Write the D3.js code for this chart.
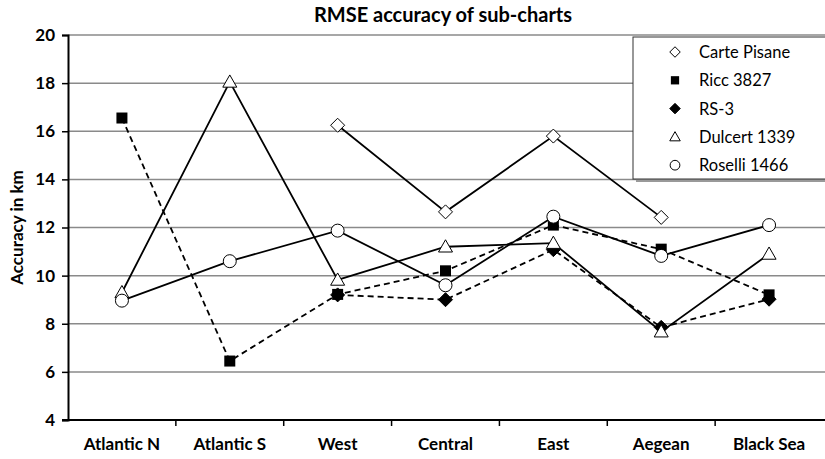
<!DOCTYPE html>
<html>
<head>
<meta charset="utf-8">
<script src="https://cdn.jsdelivr.net/npm/d3@7"></script>
<style>
  body { margin: 0; background: #fff; }
  svg { font-family: Lato, "Open Sans", sans-serif; }
</style>
</head>
<body>
<div id="chart"></div>
<script>
var regions = ["Atlantic N", "Atlantic S", "West", "Central", "East", "Aegean", "Black Sea"];
var yTicks = [4, 6, 8, 10, 12, 14, 16, 18, 20];

// null = no value for that region
var cartePisane = [null, null, 16.25, 12.65, 15.8, 12.42, null];
var ricc3827    = [16.55, 6.45, 9.22, 10.2, 12.1, 11.1, 9.2];
var rs3         = [null, null, 9.2, 9.0, 11.08, 7.85, 9.02];
var dulcert1339 = [9.3, 18.05, 9.82, 11.2, 11.35, 7.67, 10.9];
var roselli1466 = [8.96, 10.6, 11.87, 9.6, 12.45, 10.82, 12.1];

var series = [
  { name: "Carte Pisane", values: cartePisane, marker: "diamondOpen", dash: null },
  { name: "Ricc 3827", values: ricc3827, marker: "square", dash: "6,4" },
  { name: "RS-3", values: rs3, marker: "diamond", dash: "6,4" },
  { name: "Dulcert 1339", values: dulcert1339, marker: "triangle", dash: null },
  { name: "Roselli 1466", values: roselli1466, marker: "circle", dash: null }
];

var width = 825, height = 459;
var margin = { top: 35, right: 2, bottom: 39, left: 68 };
var fs = "17px";

var svg = d3.select("#chart").append("svg")
  .attr("width", width)
  .attr("height", height);

var x = d3.scaleBand()
  .domain(regions)
  .range([margin.left, width - margin.right]);

var y = d3.scaleLinear()
  .domain([4, 20])
  .range([height - margin.bottom, margin.top]);

function cx(i) { return x(regions[i]) + x.bandwidth() / 2; }

// title
svg.append("text")
  .attr("x", 443).attr("y", 22)
  .attr("text-anchor", "middle")
  .style("font-weight", "bold").style("font-size", "20px")
  .text("RMSE accuracy of sub-charts");

// gridlines
svg.append("g").selectAll("line")
  .data(yTicks.filter(function(d) { return d > 4; }))
  .enter().append("line")
  .attr("x1", margin.left).attr("x2", width)
  .attr("y1", function(d) { return y(d); })
  .attr("y2", function(d) { return y(d); })
  .attr("stroke", "#8a8a8a").attr("stroke-width", 1.5);

// y axis
var yAxis = svg.append("g")
  .attr("transform", "translate(" + margin.left + ",0)")
  .call(d3.axisLeft(y).tickValues(yTicks).tickSize(6).tickPadding(7).tickFormat(d3.format("d")));
yAxis.select(".domain").attr("stroke", "#000").attr("stroke-width", 2);
yAxis.selectAll(".tick line").attr("stroke", "#000").attr("stroke-width", 1.5);
yAxis.selectAll(".tick text")
  .style("font-size", fs).style("font-weight", "bold")
  .style("font-family", "Lato, 'Open Sans', sans-serif").attr("fill", "#000");

// x axis
var xAxisG = svg.append("g")
  .attr("transform", "translate(0," + y(4) + ")");
xAxisG.append("line")
  .attr("x1", margin.left - 6).attr("x2", width)
  .attr("stroke", "#000").attr("stroke-width", 2);
xAxisG.selectAll(".xt")
  .data(regions.slice(1))
  .enter().append("line")
  .attr("x1", function(d) { return x(d); })
  .attr("x2", function(d) { return x(d); })
  .attr("y1", 0).attr("y2", 6)
  .attr("stroke", "#000").attr("stroke-width", 1.5);
xAxisG.selectAll(".xl")
  .data(regions)
  .enter().append("text")
  .attr("x", function(d) { return x(d) + x.bandwidth() / 2; })
  .attr("y", 30)
  .attr("text-anchor", "middle")
  .style("font-size", fs).style("font-weight", "bold")
  .text(function(d) { return d; });

// y title
svg.append("text")
  .attr("transform", "translate(23," + ((y(4) + y(20)) / 2) + ") rotate(-90)")
  .attr("text-anchor", "middle")
  .style("font-size", fs).style("font-weight", "bold")
  .text("Accuracy in km");

function drawMarker(g, type, px, py, scale) {
  var s = scale || 1;
  if (type === "square") {
    g.append("rect").attr("x", px - 5.5 * s).attr("y", py - 5.5 * s)
      .attr("width", 11 * s).attr("height", 11 * s).attr("fill", "#000");
  } else if (type === "diamond" || type === "diamondOpen") {
    var r = 7 * s;
    g.append("path")
      .attr("d", "M" + px + "," + (py - r) + "L" + (px + r) + "," + py + "L" + px + "," + (py + r) + "L" + (px - r) + "," + py + "Z")
      .attr("fill", type === "diamond" ? "#000" : "#fff")
      .attr("stroke", "#000").attr("stroke-width", 1);
  } else if (type === "triangle") {
    var t = 7 * s;
    g.append("path")
      .attr("d", "M" + px + "," + (py - t) + "L" + (px + t) + "," + (py + t * 0.75) + "L" + (px - t) + "," + (py + t * 0.75) + "Z")
      .attr("fill", "#fff").attr("stroke", "#000").attr("stroke-width", 1);
  } else if (type === "circle") {
    g.append("circle").attr("cx", px).attr("cy", py).attr("r", 6.5 * s)
      .attr("fill", "#fff").attr("stroke", "#000").attr("stroke-width", 1);
  }
}

var line = d3.line()
  .defined(function(d) { return d != null; })
  .x(function(d, i) { return cx(i); })
  .y(function(d) { return y(d); });

var plot = svg.append("g");
series.forEach(function(s) {
  plot.append("path")
    .attr("d", line(s.values))
    .attr("fill", "none")
    .attr("stroke", "#000")
    .attr("stroke-width", 1.8)
    .attr("stroke-dasharray", s.dash);
});
series.forEach(function(s) {
  var g = plot.append("g");
  s.values.forEach(function(v, i) {
    if (v != null) drawMarker(g, s.marker, cx(i), y(v));
  });
});

// legend
var lg = svg.append("g");
lg.append("rect")
  .attr("x", 636).attr("y", 40).attr("width", 200).attr("height", 142)
  .attr("fill", "#999");
lg.append("rect")
  .attr("x", 633).attr("y", 37).attr("width", 200).attr("height", 142)
  .attr("fill", "#fff").attr("stroke", "#333").attr("stroke-width", 1);
series.forEach(function(s, i) {
  var ly = 52 + i * 28.3;
  drawMarker(lg, s.marker, 675, ly, 0.75);
  lg.append("text")
    .attr("x", 699).attr("y", ly + 6)
    .style("font-size", "16.5px")
    .text(s.name);
});
</script>
</body>
</html>
